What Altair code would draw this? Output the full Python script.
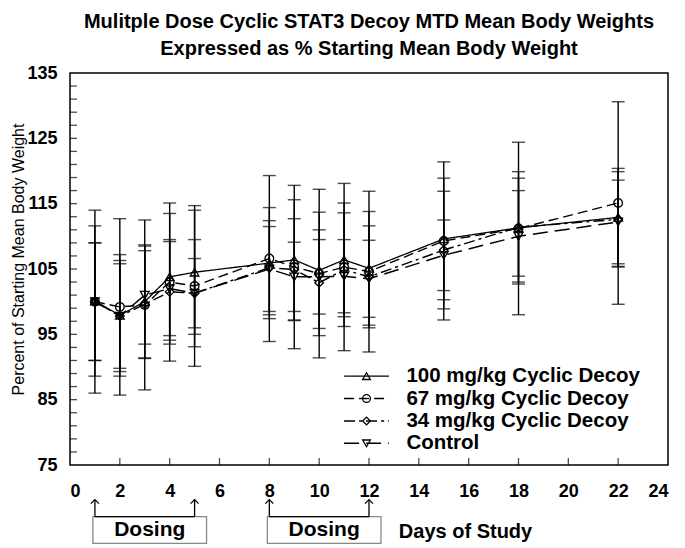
import altair as alt
import pandas as pd

FONT = "Liberation Sans, Arial, Helvetica, sans-serif"

days = [1, 2, 3, 4, 5, 8, 9, 10, 11, 12, 15, 18, 22]
series_names = ["100 mg/kg Cyclic Decoy", "67 mg/kg Cyclic Decoy",
                "34 mg/kg Cyclic Decoy", "Control"]

mean_100 = [100.1, 97.9, 100.0, 103.8, 104.5, 105.9, 106.4, 104.8, 106.4, 105.1, 109.6, 111.3, 112.9]
mean_67 = [100.0, 99.2, 99.5, 103.0, 102.4, 106.6, 105.3, 104.3, 105.3, 104.6, 109.3, 111.2, 115.1]
mean_34 = [100.0, 97.8, 99.6, 101.5, 101.3, 105.2, 104.9, 102.9, 104.9, 103.8, 107.9, 111.4, 112.6]
mean_ctrl = [100.0, 97.8, 101.0, 102.0, 101.3, 105.0, 103.8, 103.8, 103.9, 103.5, 107.1, 110.0, 112.2]

err_100 = [11.5, 9.3, 8.7, 9.7, 9.5, 8.5, 9.2, 8.9, 8.7, 8.7, 9.3, 8.6, 7.5]
err_67 = [14.0, 13.5, 13.0, 12.1, 12.3, 12.7, 12.5, 12.9, 12.8, 12.3, 12.1, 13.2, 15.5]
err_34 = [9.0, 8.5, 8.2, 8.0, 8.2, 7.2, 7.8, 8.1, 8.7, 7.8, 9.0, 7.5, 7.3]
err_ctrl = [9.0, 8.0, 7.5, 7.2, 5.3, 6.5, 5.3, 5.7, 5.6, 5.9, 5.4, 7.0, 6.4]

x_tick_labels = list(range(0, 25, 2))
y_tick_labels = [75, 85, 95, 105, 115, 125, 135]
y_minor_ticks = list(range(77, 135, 2))
x_minor_ticks = list(range(2, 24, 2))

dosing_starts = [1, 8]
dosing_ends = [5, 12]

means = [mean_100, mean_67, mean_34, mean_ctrl]
errs = [err_100, err_67, err_34, err_ctrl]

rows = []
for name, m, e in zip(series_names, means, errs):
    for d, mv, ev in zip(days, m, e):
        rows.append({"day": d, "series": name, "mean": mv,
                     "lo": mv - ev, "hi": mv + ev})
df = pd.DataFrame(rows)

W, H = 598, 392
XD = [0, 24]
YD = [75, 135]

x_scale = alt.Scale(domain=XD, nice=False, zero=False)
y_scale = alt.Scale(domain=YD, nice=False, zero=False)

dash_scale = alt.Scale(domain=series_names,
                       range=[[1, 0], [10, 5], [11, 4, 3, 4], [15, 7]])
width_scale = alt.Scale(domain=series_names, range=[1.3, 1.5, 1.4, 2.2])
shape_scale = alt.Scale(domain=series_names,
                        range=["triangle-up", "circle", "diamond", "triangle-down"])

base = alt.Chart(df)

x_enc = alt.X("day:Q", scale=x_scale,
              axis=alt.Axis(values=x_tick_labels, ticks=False, grid=False,
                            domain=False, labelFontSize=18, labelFontWeight="bold",
                            labelFont=FONT, labelColor="black", labelPadding=17,
                            title="Days of Study", titleFont=FONT, titleFontSize=20,
                            titleFontWeight="bold", titleColor="black",
                            titleX=395, titleY=66, titleAlign="center",
                            titleBaseline="middle"))
y_enc = alt.Y("mean:Q", scale=y_scale,
              axis=alt.Axis(values=y_tick_labels, ticks=False, grid=False,
                            domain=False, labelFontSize=18, labelFontWeight="bold",
                            labelFont=FONT, labelColor="black", labelPadding=13,
                            title="Percent of Starting Mean Body Weight",
                            titleFont=FONT, titleFontSize=16, titleFontWeight="normal",
                            titleColor="black", titleX=-52, titleY=186,
                            titleAlign="center", titleBaseline="middle"))

lines = base.mark_line(color="black").encode(
    x=x_enc, y=y_enc,
    strokeDash=alt.StrokeDash("series:N", scale=dash_scale, legend=None),
    strokeWidth=alt.StrokeWidth("series:N", scale=width_scale, legend=None),
    detail="series:N",
)

bars = base.mark_rule(color="black", strokeWidth=1.4).encode(
    x="day:Q", y="lo:Q", y2="hi:Q")
cap_lo = base.mark_tick(color="black", orient="horizontal", size=13,
                        thickness=1.4).encode(x="day:Q", y="lo:Q")
cap_hi = base.mark_tick(color="black", orient="horizontal", size=13,
                        thickness=1.4).encode(x="day:Q", y="hi:Q")

points = base.mark_point(filled=False, color="black", size=75,
                         strokeWidth=1.3, opacity=1).encode(
    x="day:Q", y="mean:Q",
    shape=alt.Shape("series:N", scale=shape_scale, legend=None))

# inward axis ticks
ytick_df = pd.DataFrame({"v": y_minor_ticks})
yticks = alt.Chart(ytick_df).mark_tick(color="black", orient="horizontal",
                                       thickness=1.3, size=7).encode(
    y=alt.Y("v:Q"), x=alt.value(3.5))
xtick_df = pd.DataFrame({"v": x_minor_ticks})
xticks = alt.Chart(xtick_df).mark_tick(color="black", orient="vertical",
                                       thickness=1.3, size=7).encode(
    x=alt.X("v:Q"), y=alt.value(H - 3.5))

# legend drawn inside the plot
leg_rows = []
for i, name in enumerate(series_names):
    leg_rows.append({"series": name, "ly": 88.6 - 3.43 * i,
                     "lx1": 11.0, "lx2": 12.8, "lxm": 11.9, "lt": 13.5})
leg_df = pd.DataFrame(leg_rows)
leg_base = alt.Chart(leg_df)
leg_lines = leg_base.mark_rule(color="black").encode(
    x="lx1:Q", x2="lx2:Q", y="ly:Q",
    strokeDash=alt.StrokeDash("series:N", scale=dash_scale, legend=None),
    strokeWidth=alt.StrokeWidth("series:N", scale=width_scale, legend=None))
leg_pts = leg_base.mark_point(filled=False, color="black", size=60,
                              strokeWidth=1.3, opacity=1).encode(
    x="lxm:Q", y="ly:Q",
    shape=alt.Shape("series:N", scale=shape_scale, legend=None))
leg_txt = leg_base.mark_text(align="left", baseline="middle", font=FONT,
                             fontSize=20.5, fontWeight="bold", color="black").encode(
    x="lt:Q", y="ly:Q", text="series:N")

# dosing annotations below the axis
dose_df = pd.DataFrame({"s": dosing_starts, "e": dosing_ends})
dose_base = alt.Chart(dose_df)
box = dose_base.mark_rect(fill="white", stroke="#888888", strokeWidth=1.3).encode(
    x=alt.X("bx1:Q"), x2="bx2:Q", y=alt.Y("by1:Q"), y2="by2:Q"
).transform_calculate(bx1="datum.s - 0.08", bx2="datum.e + 0.48",
                      by1="63.0", by2="67.09")
hline = dose_base.mark_rule(color="black", strokeWidth=1.3).encode(
    x="s:Q", x2="e:Q", y=alt.Y("yy:Q")
).transform_calculate(yy="67.09")
arrow_df = pd.DataFrame({"d": dosing_starts + dosing_ends})
arrow_base = alt.Chart(arrow_df).transform_calculate(y0="67.09", y1="69.7")
arrow_stems = arrow_base.mark_rule(color="black", strokeWidth=1.3).encode(
    x="d:Q", y="y0:Q", y2="y1:Q")
arrow_heads = arrow_base.mark_point(shape="M-1,1L0,0L1,1", filled=False,
                                    color="black", size=64, strokeWidth=1.3,
                                    opacity=1).encode(x="d:Q", y="y1:Q")
dose_txt = dose_base.mark_text(font=FONT, fontSize=21, fontWeight="bold",
                               color="black", baseline="middle").encode(
    x="tx:Q", y="ty:Q", text=alt.value("Dosing")
).transform_calculate(tx="(datum.s + datum.e + 0.4) / 2", ty="65.0")

chart = alt.layer(
    lines, bars, cap_lo, cap_hi, points, yticks, xticks,
    leg_lines, leg_pts, leg_txt,
    box, hline, arrow_stems, arrow_heads, dose_txt,
).properties(
    width=W, height=H,
    title=alt.TitleParams(
        text=["Mulitple Dose Cyclic STAT3 Decoy MTD Mean Body Weights",
              "Expressed as % Starting Mean Body Weight"],
        font=FONT, fontSize=20, fontWeight="bold", color="black",
        lineHeight=27, anchor="middle", offset=5),
    autosize=alt.AutoSizeParams(type="none"),
    padding={"left": 62, "top": 65, "right": 9, "bottom": 82},
).configure_view(stroke="black", strokeWidth=1.5)

chart.save("out.html", embed_options={"renderer": "svg", "actions": False})
